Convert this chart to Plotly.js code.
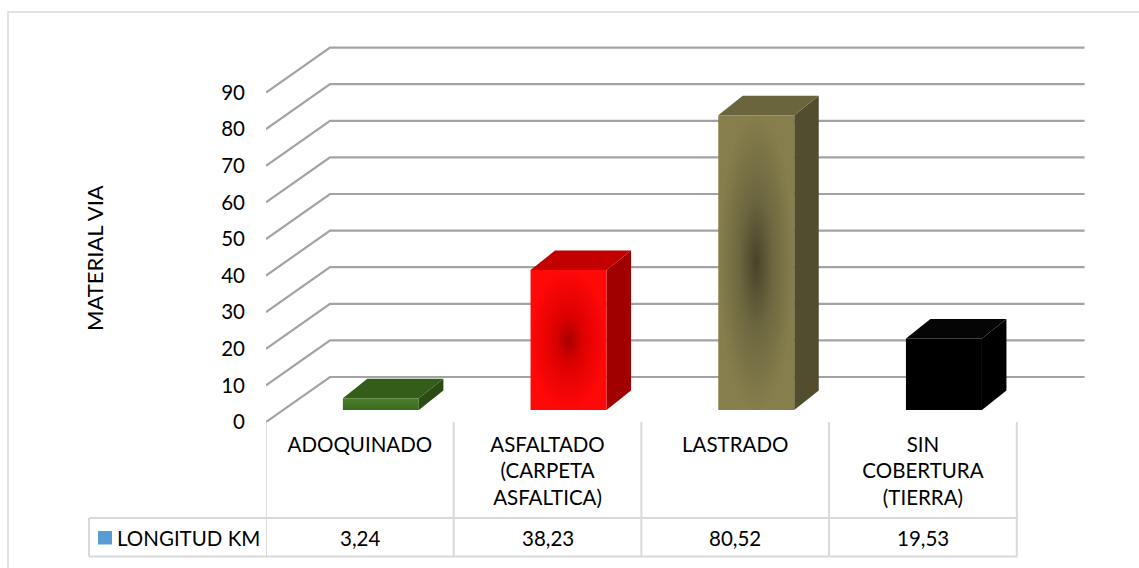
<!DOCTYPE html>
<html>
<head>
<meta charset="utf-8">
<script src="https://cdn.plot.ly/plotly-3.0.1.min.js"></script>
<style>html,body{margin:0;padding:0;background:#fff;}#chart{width:1139px;height:568px;}</style>
</head>
<body>
<div id="chart"></div>
<script>
// ---- data ----
const categories = ['ADOQUINADO', 'ASFALTADO (CARPETA ASFALTICA)', 'LASTRADO', 'SIN COBERTURA (TIERRA)'];
const tickLabels = ['ADOQUINADO', 'ASFALTADO<br>(CARPETA<br>ASFALTICA)', 'LASTRADO', 'SIN<br>COBERTURA<br>(TIERRA)'];
const values = [3.24, 38.23, 80.52, 19.53];
const seriesName = 'LONGITUD KM';
const yTicks = [0, 10, 20, 30, 40, 50, 60, 70, 80, 90];
const axisTitle = 'MATERIAL VIA';

// ---- styles ----
const frontScales = [
  [[0, '#3a6a1e'], [1, '#4d7f2c']],
  [[0, '#a80000'], [0.35, '#dd0000'], [1, '#ff0808']],
  [[0, '#47432a'], [0.45, '#6d6740'], [1, '#867e4c']],
  [[0, '#000000'], [1, '#000000']]
];
const frontGradType = ['vertical', 'radial', 'radial', 'none'];
const topColors = ['#335d19', '#c20000', '#6b653d', '#050505'];
const sideColors = ['#2a4c14', '#a00000', '#524d2e', '#000000'];
const FONT = 'Lato, "Open Sans", sans-serif';
const FS = 20.5;

// ---- geometry (pixel frame of the plot area) ----
const W = 1139, H = 568;
const PL = 266, PR = 1089, PT = 40, PB = 422;
const PX_PER_X = 187.7, PX_PER_Y = 3.66;
const xRange = [-0.5, -0.5 + (PR - PL) / PX_PER_X];
const yRange = [0, (PB - PT) / PX_PER_Y];
const wallDX = 64 / PX_PER_X, wallDY = 45 / PX_PER_Y;       // depth of the whole wall
const barOffX = 21 / PX_PER_X, barOffY = 12 / PX_PER_Y;      // bar front face offset
const barDX = 24.5 / PX_PER_X, barDY = 19.5 / PX_PER_Y;      // bar depth
const halfW = 38 / PX_PER_X;
const px2x = p => (p - PL) / (PR - PL);
const px2y = p => (PB - p) / (PB - PT);

const traces = [];

// back-wall gridlines with left diagonals
const gx = [], gy = [];
yTicks.forEach(v => {
  gx.push(-0.5, -0.5 + wallDX, 3.5 + wallDX + 0.02, null);
  gy.push(v, v + wallDY, v + wallDY, null);
});
traces.push({type: 'scatter', mode: 'lines', x: gx, y: gy, hoverinfo: 'skip', showlegend: false,
  line: {color: '#a3a3a3', width: 2.2}});

// 3D bars
values.forEach((v, i) => {
  const xl = i + barOffX - halfW, xr = i + barOffX + halfW;
  const y0 = barOffY, y1 = barOffY + v;
  // side face
  traces.push({type: 'scatter', mode: 'lines', fill: 'toself', hoverinfo: 'skip', showlegend: false,
    x: [xr, xr + barDX, xr + barDX, xr, xr], y: [y0, y0 + barDY, y1 + barDY, y1, y0],
    line: {width: 0, color: 'rgba(0,0,0,0)'}, fillcolor: sideColors[i]});
  // top face
  traces.push({type: 'scatter', mode: 'lines', fill: 'toself', hoverinfo: 'skip', showlegend: false,
    x: [xl, xr, xr + barDX, xl + barDX, xl], y: [y1, y1, y1 + barDY, y1 + barDY, y1],
    line: {width: 0, color: 'rgba(0,0,0,0)'}, fillcolor: topColors[i]});
  // front face
  const front = {type: 'scatter', mode: 'lines', fill: 'toself', name: categories[i],
    x: [xl, xr, xr, xl, xl], y: [y0, y0, y1, y1, y0], showlegend: false,
    line: {width: 0, color: 'rgba(0,0,0,0)'}, fillcolor: frontScales[i][frontScales[i].length - 1][1],
    hovertemplate: categories[i] + ': ' + v + '<extra></extra>'};
  if (frontGradType[i] !== 'none') {
    front.fillgradient = {type: frontGradType[i], colorscale: frontScales[i]};
  }
  traces.push(front);
});

// ---- table ----
const gridCol = '#d9d9d9';
const shapes = [];
// outer frame
shapes.push({type: 'rect', xref: 'paper', yref: 'paper', x0: px2x(8), x1: px2x(W + 10), y0: px2y(H + 10), y1: px2y(12),
  line: {color: '#d9d9d9', width: 1.5}, layer: 'below'});
const rowTop = 422, rowMid = 518, rowBot = 556.5;
[-0.5, 0.5, 1.5, 2.5, 3.5].forEach(xv => {
  shapes.push({type: 'line', xref: 'x', yref: 'paper', x0: xv, x1: xv, y0: px2y(rowTop), y1: px2y(rowBot),
    line: {color: gridCol, width: 2}});
});
[rowMid, rowBot].forEach(py => {
  shapes.push({type: 'line', xref: 'paper', yref: 'paper', x0: px2x(89), x1: px2x(1017.5), y0: px2y(py), y1: px2y(py),
    line: {color: gridCol, width: 2}});
});
shapes.push({type: 'line', xref: 'paper', yref: 'paper', x0: px2x(89), x1: px2x(89), y0: px2y(rowMid), y1: px2y(rowBot),
  line: {color: gridCol, width: 2}});
// legend key
shapes.push({type: 'rect', xref: 'paper', yref: 'paper', x0: px2x(98), x1: px2x(112), y0: px2y(544.5), y1: px2y(531),
  fillcolor: '#5b9bd5', line: {width: 0}});

const annotations = values.map((v, i) => ({
  xref: 'x', yref: 'paper', x: i, y: px2y(537.5), xanchor: 'center', yanchor: 'middle', showarrow: false,
  text: v.toFixed(2).replace('.', ','), font: {family: FONT, size: FS, color: '#000'}
}));
annotations.push({xref: 'paper', yref: 'paper', x: px2x(115), y: px2y(537.5), xanchor: 'left', yanchor: 'middle',
  showarrow: false, text: seriesName, font: {family: FONT, size: FS, color: '#000'}});
annotations.push({xref: 'paper', yref: 'paper', x: px2x(94), y: px2y(258), xanchor: 'center', yanchor: 'middle',
  showarrow: false, textangle: -90, text: axisTitle, font: {family: FONT, size: 22, color: '#000'}});

const layout = {
  width: W, height: H,
  margin: {l: PL, r: W - PR, t: PT, b: H - PB},
  paper_bgcolor: '#ffffff', plot_bgcolor: 'rgba(0,0,0,0)',
  showlegend: false,
  font: {family: FONT, size: FS, color: '#000'},
  xaxis: {range: xRange, tickmode: 'array', tickvals: [0, 1, 2, 3], ticktext: tickLabels,
    showgrid: false, zeroline: false, showline: false, ticks: '', ticklabelstandoff: 8,
    tickfont: {family: FONT, size: FS, color: '#000'}, fixedrange: true},
  yaxis: {range: yRange, tickmode: 'array', tickvals: yTicks, ticktext: yTicks.map(String),
    showgrid: false, zeroline: false, showline: false, ticks: '', ticklabelstandoff: 20,
    tickfont: {family: FONT, size: FS, color: '#000'}, fixedrange: true},
  shapes: shapes,
  annotations: annotations
};

Plotly.newPlot('chart', traces, layout, {displayModeBar: false, staticPlot: true});
</script>
</body>
</html>
